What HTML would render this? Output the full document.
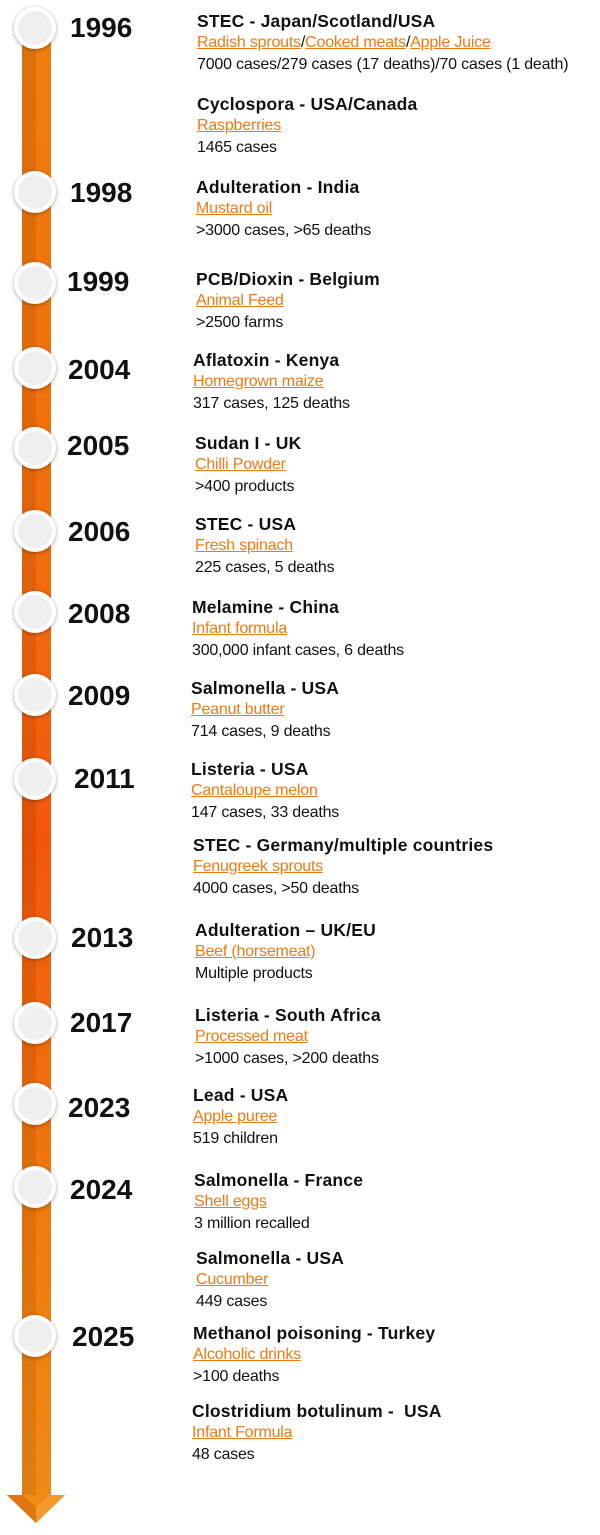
<!DOCTYPE html>
<html><head><meta charset="utf-8"><style>
body{margin:0;width:600px;height:1535px;background:#fff;position:relative;overflow:hidden;font-family:"Liberation Sans",sans-serif;color:#111}
.bar{position:absolute;left:22px;top:30px;width:29px;height:1470px;background:linear-gradient(to bottom,#ef7d0c 0%,#f26a0c 40%,#f2560d 55%,#f07a0d 80%,#f08a12 100%)}
.bar:before{content:"";position:absolute;left:0;top:0;width:14px;height:100%;background:rgba(0,0,0,0.08)}
.c{position:absolute;width:34px;height:34px;border-radius:50%;background:#efefef;border:4px solid #fff;box-shadow:0 1px 4px rgba(0,0,0,.35);left:14px}
.y{position:absolute;font-size:28px;font-weight:bold;line-height:32px}
.t{position:absolute;line-height:22px;font-size:16px;letter-spacing:-0.2px}
.t b{font-size:17.5px;display:block;line-height:22px;letter-spacing:0.2px}
.t a{color:#ee7a12;text-decoration:underline}
</style></head><body>
<div class="bar"></div>
<svg style="position:absolute;left:0;top:1490px" width="80" height="45"><polygon points="7,5 65,5 36,33" fill="#f08a14"/><polygon points="7,5 22,5 36,17 36,33" fill="#e07410"/><polygon points="36,17 50,5 65,5 36,33" fill="#f39a2a"/></svg>

<div class="c" style="top:7px"></div><div class="y" style="left:70px;top:12px">1996</div>
<div class="c" style="top:171px"></div><div class="y" style="left:70px;top:177px">1998</div>
<div class="c" style="top:262px"></div><div class="y" style="left:67px;top:266px">1999</div>
<div class="c" style="top:347px"></div><div class="y" style="left:68px;top:354px">2004</div>
<div class="c" style="top:427px"></div><div class="y" style="left:67px;top:430px">2005</div>
<div class="c" style="top:510px"></div><div class="y" style="left:68px;top:516px">2006</div>
<div class="c" style="top:591px"></div><div class="y" style="left:68px;top:598px">2008</div>
<div class="c" style="top:674px"></div><div class="y" style="left:68px;top:680px">2009</div>
<div class="c" style="top:758px"></div><div class="y" style="left:74px;top:763px">2011</div>
<div class="c" style="top:917px"></div><div class="y" style="left:71px;top:922px">2013</div>
<div class="c" style="top:1002px"></div><div class="y" style="left:70px;top:1007px">2017</div>
<div class="c" style="top:1083px"></div><div class="y" style="left:68px;top:1092px">2023</div>
<div class="c" style="top:1166px"></div><div class="y" style="left:70px;top:1174px">2024</div>
<div class="c" style="top:1315px"></div><div class="y" style="left:72px;top:1321px">2025</div>

<div class="t" style="left:197px;top:10px"><b>STEC - Japan/Scotland/USA</b><a>Radish sprouts</a>/<a>Cooked meats</a>/<a>Apple Juice</a><br>7000 cases/279 cases (17 deaths)/70 cases (1 death)</div>
<div class="t" style="left:197px;top:93px"><b>Cyclospora - USA/Canada</b><a>Raspberries</a><br>1465 cases</div>
<div class="t" style="left:196px;top:176px"><b>Adulteration - India</b><a>Mustard oil</a><br>&gt;3000 cases, &gt;65 deaths</div>
<div class="t" style="left:196px;top:268px"><b>PCB/Dioxin - Belgium</b><a>Animal Feed</a><br>&gt;2500 farms</div>
<div class="t" style="left:193px;top:349px"><b>Aflatoxin - Kenya</b><a>Homegrown maize</a><br>317 cases, 125 deaths</div>
<div class="t" style="left:195px;top:432px"><b>Sudan I - UK</b><a>Chilli Powder</a><br>&gt;400 products</div>
<div class="t" style="left:195px;top:513px"><b>STEC - USA</b><a>Fresh spinach</a><br>225 cases, 5 deaths</div>
<div class="t" style="left:192px;top:596px"><b>Melamine - China</b><a>Infant formula</a><br>300,000 infant cases, 6 deaths</div>
<div class="t" style="left:191px;top:677px"><b>Salmonella - USA</b><a>Peanut butter</a><br>714 cases, 9 deaths</div>
<div class="t" style="left:191px;top:758px"><b>Listeria - USA</b><a>Cantaloupe melon</a><br>147 cases, 33 deaths</div>
<div class="t" style="left:193px;top:834px"><b>STEC - Germany/multiple countries</b><a>Fenugreek sprouts</a><br>4000 cases, &gt;50 deaths</div>
<div class="t" style="left:195px;top:919px"><b>Adulteration – UK/EU</b><a>Beef (horsemeat)</a><br>Multiple products</div>
<div class="t" style="left:195px;top:1004px"><b>Listeria - South Africa</b><a>Processed meat</a><br>&gt;1000 cases, &gt;200 deaths</div>
<div class="t" style="left:193px;top:1084px"><b>Lead - USA</b><a>Apple puree</a><br>519 children</div>
<div class="t" style="left:194px;top:1169px"><b>Salmonella - France</b><a>Shell eggs</a><br>3 million recalled</div>
<div class="t" style="left:196px;top:1247px"><b>Salmonella - USA</b><a>Cucumber</a><br>449 cases</div>
<div class="t" style="left:193px;top:1322px"><b>Methanol poisoning - Turkey</b><a>Alcoholic drinks</a><br>&gt;100 deaths</div>
<div class="t" style="left:192px;top:1400px"><b>Clostridium botulinum -&nbsp; USA</b><a>Infant Formula</a><br>48 cases</div>
</body></html>
